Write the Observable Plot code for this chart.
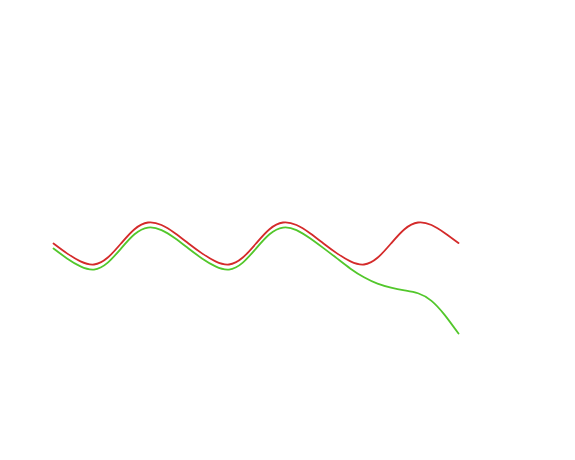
<!DOCTYPE html>
<html>
<head>
<meta charset="utf-8">
<script src="https://cdn.jsdelivr.net/npm/d3@7"></script>
<script src="https://cdn.jsdelivr.net/npm/@observablehq/plot@0.6"></script>
<style>
  html, body { margin: 0; padding: 0; background: #fff; }
  #chart svg { display: block; }
</style>
</head>
<body>
<div id="chart"></div>
<script>
const steps = d3.range(0, 31);
const seriesNames = ["Series A", "Series B"];
const seriesColors = ["#d42a2a", "#52c72b"];
const redSeries = [
  0, -0.47, -0.85, -1.0, -0.68, 0, 0.68, 1.0, 0.88, 0.49,
  0, -0.47, -0.85, -1.0, -0.68, 0, 0.68, 1.0, 0.88, 0.49,
  0, -0.47, -0.85, -1.0, -0.68, 0, 0.68, 1.0, 0.88, 0.49,
  0.02
];
const greenSeries = [
  -0.24, -0.71, -1.09, -1.24, -0.92, -0.24, 0.44, 0.76, 0.64, 0.25,
  -0.24, -0.71, -1.09, -1.24, -0.92, -0.24, 0.44, 0.76, 0.64, 0.25,
  -0.22, -0.71, -1.20, -1.61, -1.91, -2.10, -2.23, -2.37, -2.73, -3.42,
  -4.29
];

const rows = [];
steps.forEach((s, i) => rows.push({x: s, y: redSeries[i], series: seriesNames[0]}));
steps.forEach((s, i) => rows.push({x: s, y: greenSeries[i], series: seriesNames[1]}));

const chart = Plot.plot({
  width: 575,
  height: 460,
  marginLeft: 53,
  marginRight: 117,
  marginTop: 201,
  marginBottom: 112,
  x: {domain: [0, 30], axis: null},
  y: {domain: [-5, 2], axis: null},
  color: {domain: seriesNames, range: seriesColors},
  marks: [
    Plot.line(rows, {x: "x", y: "y", z: "series", stroke: "series", strokeWidth: 1.8, curve: "natural"})
  ]
});
document.getElementById("chart").appendChild(chart);
</script>
</body>
</html>
